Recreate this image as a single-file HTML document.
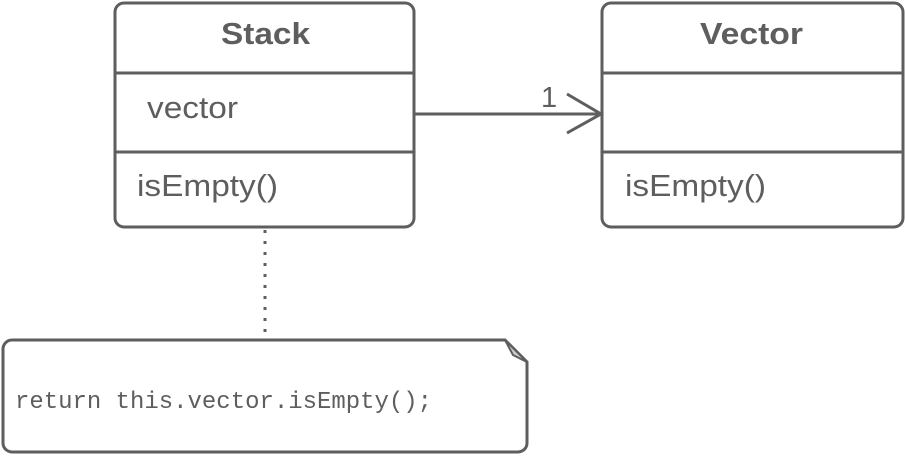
<!DOCTYPE html>
<html><head><style>
body{margin:0;background:#fff;width:905px;height:455px;overflow:hidden}
</style></head><body>
<svg width="905" height="455" viewBox="0 0 905 455" xmlns="http://www.w3.org/2000/svg" font-family="Liberation Sans, sans-serif" fill="#5e5e5e">
<g fill="none" stroke="#5e5e5e" stroke-width="3">
<rect x="115" y="3" width="299" height="224" rx="9"/>
<line x1="115" y1="73" x2="414" y2="73"/>
<line x1="115" y1="152" x2="414" y2="152"/>
<rect x="602" y="3" width="301" height="224" rx="9"/>
<line x1="602" y1="73" x2="903" y2="73"/>
<line x1="602" y1="152" x2="903" y2="152"/>
<line x1="415" y1="114" x2="601" y2="114"/>
<polyline points="567,94 601,114 567,133"/>
<line x1="265" y1="230" x2="265" y2="338" stroke-dasharray="3,8"/>
<path d="M12,340 H505 L527,362 V443 A9,9 0 0 1 518,452 H12 A9,9 0 0 1 3,443 V349 A9,9 0 0 1 12,340 Z"/>
</g>
<path d="M505,340 L527,362 L513,355 Z" fill="#ccc" stroke="#5e5e5e" stroke-width="2"/>
<text x="221" y="44" font-size="31" font-weight="bold" textLength="89" lengthAdjust="spacingAndGlyphs">Stack</text>
<text x="147" y="118" font-size="31" textLength="91" lengthAdjust="spacingAndGlyphs">vector</text>
<text x="137" y="196" font-size="31" textLength="141" lengthAdjust="spacingAndGlyphs">isEmpty()</text>
<text x="700" y="44" font-size="31" font-weight="bold" textLength="103" lengthAdjust="spacingAndGlyphs">Vector</text>
<text x="625" y="196" font-size="31" textLength="141" lengthAdjust="spacingAndGlyphs">isEmpty()</text>
<text x="541" y="107" font-size="29">1</text>
<text x="15" y="408" font-size="24" font-family="Liberation Mono, monospace" textLength="417" lengthAdjust="spacingAndGlyphs">return this.vector.isEmpty();</text>
</svg>
</body></html>
